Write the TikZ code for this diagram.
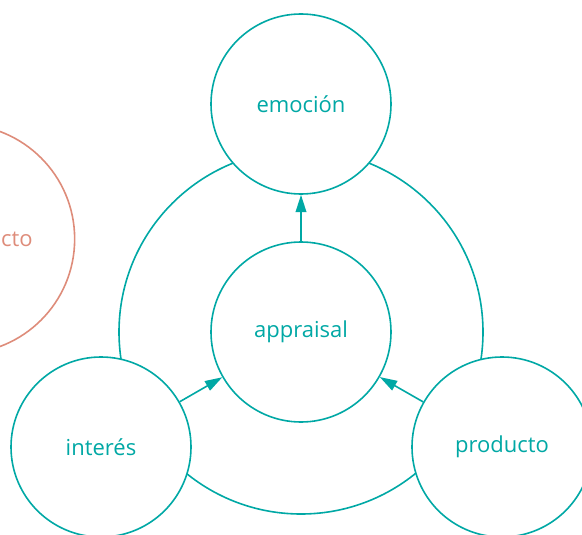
\documentclass[tikz,border=0pt]{standalone}
\usepackage{fontspec}
\setmainfont{Open Sans}
\usetikzlibrary{arrows.meta}
\definecolor{teal1}{RGB}{0,168,165}
\definecolor{salmon1}{RGB}{222,140,122}
\begin{document}
\begin{tikzpicture}[x=0.75pt,y=-0.75pt,
  lbl/.style={font=\fontsize{16.5}{19}\selectfont},
  bub/.style={circle,draw=teal1,fill=white,line width=1.2pt,minimum size=135pt,inner sep=0pt,text=teal1,lbl},
  arr/.style={draw=teal1,line width=1.2pt,-{Triangle[length=13pt,width=8pt]}}]
\useasboundingbox (0,0) rectangle (582,535);
\clip (0,0) rectangle (582,535);
\node[circle,draw=salmon1,line width=1.2pt,minimum size=172pt,inner sep=0pt] (ctx) at (-40,239) {};
\node[anchor=east,text=salmon1,lbl,inner sep=0pt] (ctxt) at (33,239) {cto};
\node[circle,draw=teal1,line width=1.2pt,minimum size=273pt,inner sep=0pt] (big) at (301,332) {};
\node[bub] (emo) at (301,104) {emoción};
\node[bub] (app) at (301,332) {appraisal};
\node[bub] (int) at (101,447) {interés};
\node[bub] (pro) at (502,447) {producto};
\draw[arr] (app) -- (emo);
\draw[arr] (int) -- (app);
\draw[arr] (pro) -- (app);
\end{tikzpicture}
\end{document}
